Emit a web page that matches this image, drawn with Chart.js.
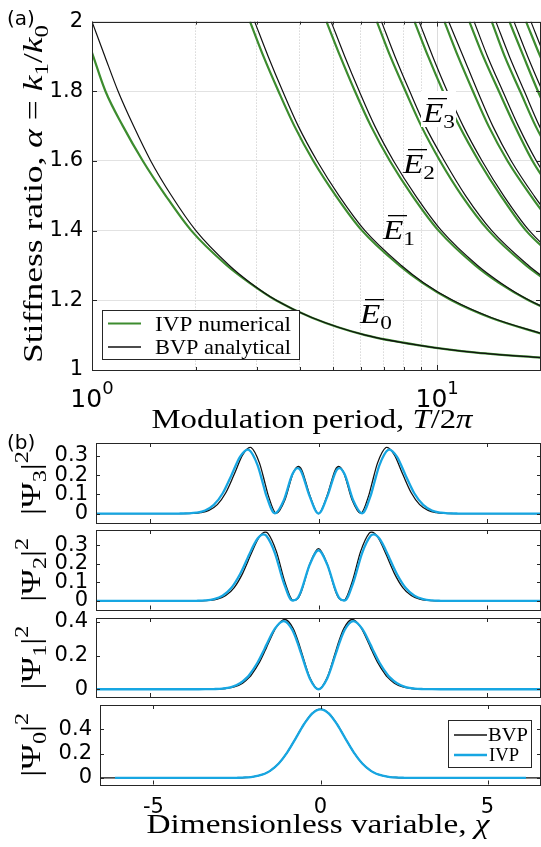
<!DOCTYPE html>
<html>
<head>
<meta charset="utf-8">
<script src="https://cdn.jsdelivr.net/npm/chart.js"></script>
<style>
  html, body { margin: 0; padding: 0; background: #fff; }
  #wrap { position: relative; width: 541px; height: 847px; overflow: hidden; }
  #wrap canvas { position: absolute; left: 0; top: 0; }
</style>
</head>
<body>
<div id="wrap">
  <canvas id="chartA" width="541" height="847"></canvas>
  <canvas id="psi3" width="541" height="847"></canvas>
  <canvas id="psi2" width="541" height="847"></canvas>
  <canvas id="psi1" width="541" height="847"></canvas>
  <canvas id="psi0" width="541" height="847"></canvas>
</div>
<script>
// ---- (a) stiffness ratio vs modulation period ----
// each curve: modulation period T/2pi at the listed stiffness ratios
var alphaLevels = [2.0, 1.9, 1.8, 1.7, 1.6, 1.5, 1.4, 1.3, 1.25, 1.2, 1.15, 1.1, 1.07, 1.05, 1.035, 1.03];
var bvpPeriods = [
  [1.00, 1.09, 1.19, 1.32, 1.48, 1.70, 2.00, 2.50, 2.88, 3.42, 4.35, 6.2, 9.0, 13.0, 20.5, 24],
  [2.96, 3.24, 3.57, 3.96, 4.49, 5.20, 6.18, 7.88, 9.16, 11.1, 14.4, 20.8],
  [4.93, 5.40, 5.95, 6.60, 7.48, 8.67, 10.3, 13.1, 15.3, 18.5, 23.9],
  [6.90, 7.55, 8.33, 9.24, 10.5, 12.1, 14.4, 18.4, 21.4],
  [8.87, 9.71, 10.7, 11.9, 13.5, 15.6, 18.5, 23.6],
  [10.8, 11.9, 13.1, 14.5, 16.4, 19.1, 22.7],
  [12.8, 14.0, 15.5, 17.2, 19.4, 22.5],
  [14.8, 16.2, 17.9, 19.8, 22.4],
  [16.7, 18.3, 20.2, 22.4],
  [18.7, 20.5, 22.6]
];
var ivpE0Alpha = [1.911, 1.8, 1.7, 1.6, 1.5, 1.4, 1.3, 1.25, 1.2, 1.15, 1.1, 1.07, 1.05, 1.035, 1.03];
var ivpPeriods = [
  [1.00, 1.094, 1.229, 1.404, 1.636, 1.94, 2.46, 2.86, 3.41, 4.34, 6.19, 9.0, 13.0, 20.5, 24],
  [2.87, 3.14, 3.47, 3.86, 4.38, 5.09, 6.06, 7.77, 9.07, 11.0, 14.3, 20.7],
  [4.78, 5.24, 5.78, 6.43, 7.30, 8.48, 10.1, 12.9, 15.1, 18.4, 23.8],
  [6.69, 7.32, 8.10, 9.00, 10.2, 11.8, 14.1, 18.1, 21.2],
  [8.60, 9.42, 10.4, 11.6, 13.2, 15.3, 18.1, 23.3],
  [10.5, 11.5, 12.7, 14.1, 16.0, 18.7, 22.2],
  [12.4, 13.6, 15.1, 16.8, 18.9, 22.0],
  [14.4, 15.7, 17.4, 19.3, 21.9],
  [16.2, 17.8, 19.6, 21.8],
  [18.1, 19.9, 22.0]
];
var periodTicks = [1, 2, 3, 4, 5, 6, 7, 8, 9, 10, 20];
var periodMajor = [1, 10];
var alphaTicks = [1, 1.2, 1.4, 1.6, 1.8, 2];

// ---- (b) probability densities ----
var chiBvp = [-6.6, -4.5, -4.25, -4, -3.75, -3.5, -3.25, -3, -2.75, -2.5, -2.25, -2.03, -2, -1.75, -1.58, -1.5, -1.25, -1, -0.75, -0.6, -0.5, -0.25,
  0, 0.25, 0.5, 0.6, 0.75, 1, 1.25, 1.5, 1.58, 1.75, 2, 2.03, 2.25, 2.5, 2.75, 3, 3.25, 3.5, 3.75, 4, 4.25, 4.5, 6.6];
var chiIvp = [-6.6, -4.658, -4.399, -4.14, -3.881, -3.623, -3.364, -3.105, -2.846, -2.588, -2.329, -2.101, -2.07, -1.811, -1.635, -1.553, -1.294, -1.035, -0.776, -0.621, -0.518, -0.259,
  0, 0.259, 0.518, 0.621, 0.776, 1.035, 1.294, 1.553, 1.635, 1.811, 2.07, 2.101, 2.329, 2.588, 2.846, 3.105, 3.364, 3.623, 3.881, 4.14, 4.399, 4.658, 6.6];
var chiIvp0 = [-6.15, -4.5, -4.25, -4, -3.75, -3.5, -3.25, -3, -2.75, -2.5, -2.25, -2.03, -2, -1.75, -1.58, -1.5, -1.25, -1, -0.75, -0.6, -0.5, -0.25,
  0, 0.25, 0.5, 0.6, 0.75, 1, 1.25, 1.5, 1.58, 1.75, 2, 2.03, 2.25, 2.5, 2.75, 3, 3.25, 3.5, 3.75, 4, 4.25, 4.5, 6.15];

var psi3Bvp = [0, 0, 0.0001, 0.0003, 0.0013, 0.0051, 0.0169, 0.0470, 0.1086, 0.2048, 0.3059, 0.3456, 0.3445, 0.2631, 0.1536, 0.1003, 0.0010, 0.0692, 0.2119, 0.2455, 0.2288, 0.0913,
  0, 0.0913, 0.2288, 0.2455, 0.2119, 0.0692, 0.0010, 0.1003, 0.1536, 0.2631, 0.3445, 0.3456, 0.3059, 0.2048, 0.1086, 0.0470, 0.0169, 0.0051, 0.0013, 0.0003, 0.0001, 0, 0];
var psi3Ivp = [0, 0, 0.0001, 0.0003, 0.0013, 0.0049, 0.0163, 0.0454, 0.1049, 0.1979, 0.2956, 0.3339, 0.3329, 0.2542, 0.1484, 0.0969, 0.0010, 0.0669, 0.2047, 0.2372, 0.2211, 0.0882,
  0, 0.0882, 0.2211, 0.2372, 0.2047, 0.0669, 0.0010, 0.0969, 0.1484, 0.2542, 0.3329, 0.3339, 0.2956, 0.1979, 0.1049, 0.0454, 0.0163, 0.0049, 0.0013, 0.0003, 0.0001, 0, 0];
var psi2Bvp = [0, 0, 0, 0, 0.0002, 0.0008, 0.0030, 0.0101, 0.0292, 0.0720, 0.1487, 0.2401, 0.2532, 0.3465, 0.3705, 0.3642, 0.2670, 0.1038, 0.0025, 0.0154, 0.0549, 0.2029,
  0.2821, 0.2029, 0.0549, 0.0154, 0.0025, 0.1038, 0.2670, 0.3642, 0.3705, 0.3465, 0.2532, 0.2401, 0.1487, 0.0720, 0.0292, 0.0101, 0.0030, 0.0008, 0.0002, 0, 0, 0, 0];
var psi2Ivp = [0, 0, 0, 0, 0.0002, 0.0008, 0.0029, 0.0098, 0.0282, 0.0696, 0.1437, 0.2320, 0.2446, 0.3348, 0.3580, 0.3519, 0.2580, 0.1003, 0.0024, 0.0149, 0.0530, 0.1960,
  0.2726, 0.1960, 0.0530, 0.0149, 0.0024, 0.1003, 0.2580, 0.3519, 0.3580, 0.3348, 0.2446, 0.2320, 0.1437, 0.0696, 0.0282, 0.0098, 0.0029, 0.0008, 0.0002, 0, 0, 0, 0];
var psi1Bvp = [0, 0, 0, 0, 0, 0.0001, 0.0003, 0.0013, 0.0044, 0.0136, 0.0362, 0.0755, 0.0827, 0.1616, 0.2321, 0.2676, 0.3696, 0.4151, 0.3616, 0.2834, 0.2197, 0.0663,
  0, 0.0663, 0.2197, 0.2834, 0.3616, 0.4151, 0.3696, 0.2676, 0.2321, 0.1616, 0.0827, 0.0755, 0.0362, 0.0136, 0.0044, 0.0013, 0.0003, 0.0001, 0, 0, 0, 0, 0];
var psi1Ivp = [0, 0, 0, 0, 0, 0.0001, 0.0003, 0.0013, 0.0043, 0.0133, 0.0353, 0.0737, 0.0807, 0.1577, 0.2264, 0.2611, 0.3606, 0.4050, 0.3528, 0.2765, 0.2143, 0.0647,
  0, 0.0647, 0.2143, 0.2765, 0.3528, 0.4050, 0.3606, 0.2611, 0.2264, 0.1577, 0.0807, 0.0737, 0.0353, 0.0133, 0.0043, 0.0013, 0.0003, 0.0001, 0, 0, 0, 0, 0];
var psi0Bvp = [0, 0, 0, 0, 0, 0, 0, 0.0001, 0.0003, 0.0011, 0.0036, 0.0092, 0.0103, 0.0264, 0.0465, 0.0595, 0.1183, 0.2076, 0.3215, 0.3936, 0.4394, 0.5300,
  0.5642, 0.5300, 0.4394, 0.3936, 0.3215, 0.2076, 0.1183, 0.0595, 0.0465, 0.0264, 0.0103, 0.0092, 0.0036, 0.0011, 0.0003, 0.0001, 0, 0, 0, 0, 0, 0, 0];
var psi0Ivp = [0, 0, 0, 0, 0, 0, 0, 0.0001, 0.0003, 0.0011, 0.0036, 0.0093, 0.0104, 0.0266, 0.0468, 0.0598, 0.1185, 0.2075, 0.3208, 0.3925, 0.4380, 0.5280,
  0.5620, 0.5280, 0.4380, 0.3925, 0.3208, 0.2075, 0.1185, 0.0598, 0.0468, 0.0266, 0.0104, 0.0093, 0.0036, 0.0011, 0.0003, 0.0001, 0, 0, 0, 0, 0, 0, 0];

var chiTicks = [-5, 0, 5];
var psiTicksA = [0, 0.1, 0.2, 0.3];
var psiTicksB = [0, 0.2, 0.4];

// ---- drawing ----
var W = 541, H = 847, XH = 40;
var INK = '#262626';
var GREEN = '#3d8c2f', CYAN = '#17a6e2', BLACK = '#111111';
var SERIF = '"Liberation Serif", "Times New Roman", serif';
var SANS = '"DejaVu Sans", sans-serif';

Chart.defaults.font.family = SANS;
Chart.defaults.color = '#000';

function pts(xs, ys) {
  return xs.map(function (x, i) { return {x: x, y: ys[i]}; });
}

// rich text: parts = [[text, kind]], kind r | i | sub | sup
function rich(ctx, parts, x, y, size, o) {
  o = o || {};
  var items = parts.map(function (p) {
    var k = p[1] || 'r';
    var small = (k === 'sub' || k === 'sup');
    var s = small ? size * 0.7 : size;
    var font = (k === 'i' ? 'italic ' : '') + s + 'px ' + (o.family || SERIF);
    ctx.font = font;
    var dy = k === 'sub' ? size * 0.22 : (k === 'sup' ? -size * 0.42 : 0);
    return {t: p[0], font: font, w: ctx.measureText(p[0]).width, dy: dy};
  });
  var total = items.reduce(function (a, b) { return a + b.w; }, 0);
  var sx = o.width ? o.width / total : 1;
  ctx.save();
  ctx.translate(x, y);
  if (o.rotate) ctx.rotate(o.rotate);
  ctx.scale(sx, 1);
  ctx.textAlign = 'left';
  ctx.textBaseline = 'alphabetic';
  ctx.fillStyle = '#000';
  var cx = o.align === 'left' ? 0 : -total / 2;
  items.forEach(function (it) {
    ctx.font = it.font;
    ctx.fillText(it.t, cx, it.dy);
    cx += it.w;
  });
  ctx.restore();
}

function ebar(ctx, n, x, base, bg) {
  if (bg) {
    ctx.fillStyle = '#fff';
    ctx.fillRect(x - 2, base - 31, 35, 36);
  }
  rich(ctx, [['E', 'i'], [String(n), 'sub']], x, base, 27, {align: 'left', width: 32});
  ctx.fillStyle = '#000';
  ctx.fillRect(x + 5, base - 24, 19, 1.3);
}

function framePlugin(cfg) {
  return {
    id: 'frame',
    afterDatasetsDraw: function (chart) {
      var a = chart.chartArea, ctx = chart.ctx;
      var sx = chart.scales.x, sy = chart.scales.y;
      ctx.save();
      ctx.strokeStyle = INK;
      ctx.lineWidth = 1;
      ctx.beginPath();
      cfg.xTicks.forEach(function (v) {
        var px = Math.round(sx.getPixelForValue(v)) + 0.5;
        var len = cfg.xMajor && cfg.xMajor.indexOf(v) < 0 ? 3 : cfg.len;
        ctx.moveTo(px, a.bottom); ctx.lineTo(px, a.bottom - len);
        ctx.moveTo(px, a.top); ctx.lineTo(px, a.top + len);
      });
      cfg.yTicks.forEach(function (v) {
        var py = Math.round(sy.getPixelForValue(v)) + 0.5;
        ctx.moveTo(a.left, py); ctx.lineTo(a.left + cfg.len, py);
        ctx.moveTo(a.right, py); ctx.lineTo(a.right - cfg.len, py);
      });
      ctx.stroke();
      ctx.strokeRect(Math.round(a.left) + 0.5, Math.round(a.top) + 0.5,
        Math.round(a.right - a.left) - 1, Math.round(a.bottom - a.top));
      ctx.restore();
    },
    afterDraw: function (chart) {
      if (cfg.extra) cfg.extra(chart, chart.ctx);
    }
  };
}

// plot box [left, top, right, bottom]: the axes take the space left and below
function boxOptions(box) {
  return {
    padding: {left: 0, top: box[1], right: W - box[2], bottom: H - box[3] - XH},
    yWidth: box[0]
  };
}

// ---------- panel (a) ----------
var topSets = [];
bvpPeriods.forEach(function (periods, n) {
  topSets.push({
    data: pts(ivpPeriods[n], n === 0 ? ivpE0Alpha : alphaLevels),
    borderColor: GREEN, borderWidth: 2.2, order: 1
  });
  topSets.push({
    data: pts(periods, alphaLevels),
    borderColor: BLACK, borderWidth: 1.2, order: 0
  });
});
topSets.forEach(function (d) {
  d.pointRadius = 0;
  d.fill = false;
  d.cubicInterpolationMode = 'monotone';
});

function isMajorPeriod(c) {
  return c.tick && periodMajor.indexOf(c.tick.value) >= 0;
}

var boxA = boxOptions([92, 15, 541, 370]);
new Chart(document.getElementById('chartA'), {
  type: 'line',
  data: {datasets: topSets},
  options: {
    responsive: false, animation: false, devicePixelRatio: 1,
    layout: {padding: boxA.padding},
    plugins: {legend: {display: false}, tooltip: {enabled: false}},
    scales: {
      x: {
        type: 'logarithmic', min: 1, max: 20,
        afterBuildTicks: function (s) { s.ticks = periodTicks.map(function (v) { return {value: v}; }); },
        afterFit: function (s) { s.height = XH; },
        ticks: {display: false},
        grid: {drawTicks: false, lineWidth: 1,
          color: function (c) { return isMajorPeriod(c) ? '#dcdcdc' : '#c4c4c4'; }},
        border: {display: false,
          dash: function (c) { return isMajorPeriod(c) ? [] : [1, 2]; }}
      },
      y: {
        type: 'linear', min: 1, max: 2,
        afterBuildTicks: function (s) { s.ticks = alphaTicks.map(function (v) { return {value: v}; }); },
        afterFit: function (s) { s.width = boxA.yWidth; },
        ticks: {font: {size: 21}, padding: 9, color: '#000', autoSkip: false,
          callback: function (v) { return String(v); }},
        grid: {drawTicks: false, color: '#e2e2e2'},
        border: {display: false}
      }
    }
  },
  plugins: [framePlugin({
    xTicks: periodTicks, xMajor: periodMajor, yTicks: alphaTicks, len: 5,
    extra: function (chart, ctx) {
      var sx = chart.scales.x;
      // panel tag
      ctx.fillStyle = '#000';
      ctx.font = '20px ' + SANS;
      ctx.textAlign = 'left';
      ctx.textBaseline = 'alphabetic';
      ctx.fillText('(a)', 7, 25);
      // decade labels
      [[1, '0'], [10, '1']].forEach(function (d) {
        var px = sx.getPixelForValue(d[0]);
        ctx.font = '25px ' + SANS;
        var w1 = ctx.measureText('10').width;
        ctx.font = '18px ' + SANS;
        var w2 = ctx.measureText(d[1]).width;
        var x0 = px - (w1 + w2) / 2;
        ctx.font = '25px ' + SANS;
        ctx.fillText('10', x0, 407);
        ctx.font = '18px ' + SANS;
        ctx.fillText(d[1], x0 + w1, 394);
      });
      // axis titles
      rich(ctx, [['Modulation period, ', 'r'], ['T', 'i'], ['/2', 'r'], ['π', 'i']],
        312, 428, 28, {width: 321});
      rich(ctx, [['Stiffness ratio, ', 'r'], ['α', 'i'], [' = ', 'r'], ['k', 'i'], ['1', 'sub'],
        ['/', 'r'], ['k', 'i'], ['0', 'sub']],
        42, 194, 28, {width: 338, rotate: -Math.PI / 2});
      // legend
      ctx.fillStyle = '#fff';
      ctx.fillRect(102.5, 310.5, 197, 49);
      ctx.strokeStyle = INK;
      ctx.lineWidth = 1;
      ctx.strokeRect(102.5, 310.5, 197, 49);
      ctx.lineWidth = 2.2;
      ctx.strokeStyle = GREEN;
      ctx.beginPath(); ctx.moveTo(108, 323.5); ctx.lineTo(141, 323.5); ctx.stroke();
      ctx.lineWidth = 1.5;
      ctx.strokeStyle = BLACK;
      ctx.beginPath(); ctx.moveTo(108, 347); ctx.lineTo(141, 347); ctx.stroke();
      rich(ctx, [['IVP numerical', 'r']], 155, 330.5, 22, {align: 'left', width: 136});
      rich(ctx, [['BVP analytical', 'r']], 155, 354, 22, {align: 'left', width: 136});
      // mode labels
      ebar(ctx, 0, 360, 323);
      ebar(ctx, 1, 383, 239);
      ebar(ctx, 2, 403, 173);
      ebar(ctx, 3, 423, 122, true);
    }
  })]
});

// ---------- panel (b) ----------
function strip(id, box, yMin, yMax, yTicks, bvpData, ivpData, withX, extra) {
  var b = boxOptions(box);
  var sets = [
    {data: ivpData, borderColor: CYAN, borderWidth: 2.3, order: 0},
    {data: bvpData, borderColor: BLACK, borderWidth: 1.3, order: 1}
  ];
  sets.forEach(function (d) {
    d.pointRadius = 0;
    d.fill = false;
    d.cubicInterpolationMode = 'monotone';
  });
  new Chart(document.getElementById(id), {
    type: 'line',
    data: {datasets: sets},
    options: {
      responsive: false, animation: false, devicePixelRatio: 1,
      layout: {padding: b.padding},
      plugins: {legend: {display: false}, tooltip: {enabled: false}},
      scales: {
        x: {
          type: 'linear', min: -6.6, max: 6.6,
          afterBuildTicks: function (s) { s.ticks = chiTicks.map(function (v) { return {value: v}; }); },
          afterFit: function (s) { s.height = XH; },
          ticks: {display: withX, font: {size: 21}, padding: 10, color: '#000', autoSkip: false, maxRotation: 0,
            callback: function (v) { return String(v); }},
          grid: {display: false, drawTicks: false},
          border: {display: false}
        },
        y: {
          type: 'linear', min: yMin, max: yMax,
          afterBuildTicks: function (s) { s.ticks = yTicks.map(function (v) { return {value: v}; }); },
          afterFit: function (s) { s.width = b.yWidth; },
          ticks: {font: {size: 21}, padding: 8, color: '#000', autoSkip: false,
            callback: function (v) { return String(v); }},
          grid: {display: false, drawTicks: false},
          border: {display: false}
        }
      }
    },
    plugins: [framePlugin({xTicks: chiTicks, yTicks: yTicks, len: 4, extra: extra})]
  });
}

function psiLabel(n) {
  return function (chart, ctx) {
    var a = chart.chartArea;
    rich(ctx, [['|Ψ', 'r'], [String(n), 'sub'], ['|', 'r'], ['2', 'sup']],
      40, (a.top + a.bottom) / 2, 28, {width: 64, rotate: -Math.PI / 2});
  };
}

strip('psi3', [96, 443, 541, 523], -0.049, 0.368, psiTicksA,
  pts(chiBvp, psi3Bvp), pts(chiIvp, psi3Ivp), false,
  function (chart, ctx) {
    psiLabel(3)(chart, ctx);
    ctx.fillStyle = '#000';
    ctx.font = '20px ' + SANS;
    ctx.textAlign = 'left';
    ctx.textBaseline = 'alphabetic';
    ctx.fillText('(b)', 7, 449);
  });
strip('psi2', [96, 530, 541, 609.5], -0.046, 0.382, psiTicksA,
  pts(chiBvp, psi2Bvp), pts(chiIvp, psi2Ivp), false, psiLabel(2));
strip('psi1', [96, 618, 541, 697], -0.046, 0.424, psiTicksB,
  pts(chiBvp, psi1Bvp), pts(chiIvp, psi1Ivp), false, psiLabel(1));
strip('psi0', [100, 705, 541, 784.5], -0.054, 0.598, psiTicksB,
  pts(chiBvp, psi0Bvp), pts(chiIvp0, psi0Ivp), true,
  function (chart, ctx) {
    psiLabel(0)(chart, ctx);
    rich(ctx, [['Dimensionless variable, ', 'r'], ['χ', 'i']], 318, 833, 28, {width: 343});
    // legend
    ctx.fillStyle = '#fff';
    ctx.fillRect(448.5, 720.5, 83, 47);
    ctx.strokeStyle = INK;
    ctx.lineWidth = 1;
    ctx.strokeRect(448.5, 720.5, 83, 47);
    ctx.lineWidth = 1.5;
    ctx.strokeStyle = BLACK;
    ctx.beginPath(); ctx.moveTo(454, 735); ctx.lineTo(487, 735); ctx.stroke();
    ctx.lineWidth = 2.3;
    ctx.strokeStyle = CYAN;
    ctx.beginPath(); ctx.moveTo(454, 755); ctx.lineTo(487, 755); ctx.stroke();
    rich(ctx, [['BVP', 'r']], 488, 740.5, 19, {align: 'left', width: 40});
    rich(ctx, [['IVP', 'r']], 489, 760.5, 19, {align: 'left', width: 30});
  });
</script>
</body>
</html>
